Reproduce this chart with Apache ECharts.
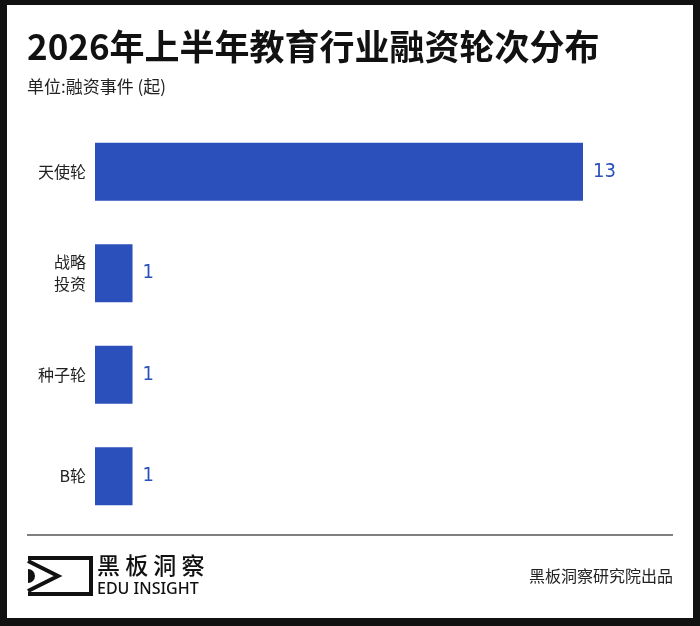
<!DOCTYPE html>
<html>
<head>
<meta charset="utf-8">
<title>2026年上半年教育行业融资轮次分布</title>
<script src="https://cdn.jsdelivr.net/npm/echarts@6/dist/echarts.min.js"></script>
<style>
  html, body { margin: 0; padding: 0; background: #111; }
  #chart { width: 700px; height: 626px; }
</style>
</head>
<body>
<div id="chart"></div>
<script>
// data
var rounds = ['天使轮', '战略\n投资', '种子轮', 'B轮'];
var counts = [13, 1, 1, 1];
var titleText = '2026年上半年教育行业融资轮次分布';
var unitText = '单位:融资事件 (起)';

var BLUE = '#2b4fbb';
var CJK = '"Noto Sans CJK SC", "Noto Sans", sans-serif';
var NARROW = '"DejaVu Sans Condensed", "Liberation Sans Narrow", Roboto, sans-serif';

var myChart = echarts.init(document.getElementById('chart'));

var option = {
  backgroundColor: '#111',
  animation: false,
  title: [{
    text: titleText,
    left: 27,
    top: 29,
    padding: 0,
    textStyle: { fontFamily: CJK, fontSize: 35, fontWeight: 'bold', color: '#111' }
  }, {
    text: unitText,
    left: 27,
    top: 78,
    padding: 0,
    textStyle: { fontFamily: CJK, fontSize: 17, fontWeight: 'normal', color: '#222' }
  }],
  grid: { left: 95, right: 117, top: 121, height: 406, containLabel: false },
  xAxis: { type: 'value', min: 0, max: 13, show: false },
  yAxis: {
    type: 'category',
    data: rounds,
    inverse: true,
    axisLine: { show: false },
    axisTick: { show: false },
    axisLabel: { margin: 9, fontFamily: CJK, fontSize: 16, lineHeight: 22, color: '#222' }
  },
  series: [{
    type: 'bar',
    data: counts,
    barWidth: 58,
    itemStyle: { color: BLUE },
    label: {
      show: true,
      position: 'right',
      distance: 10,
      fontFamily: NARROW,
      fontSize: 20,
      fontWeight: 'normal',
      color: BLUE
    }
  }],
  graphic: [
    // white card inside the black frame
    { type: 'rect', z: -10, shape: { x: 7, y: 5, width: 686, height: 613 }, style: { fill: '#fff' } },
    // divider line
    { type: 'line', shape: { x1: 27, y1: 535, x2: 673, y2: 535 }, style: { stroke: '#555', lineWidth: 1.5 } },
    // logo box
    { type: 'polyline', shape: { points: [[28, 558], [91, 558], [91, 594], [28, 594]] },
      style: { stroke: '#111', lineWidth: 4, fill: null } },
    { type: 'polyline', shape: { points: [[28, 561], [58, 576], [28, 591]] },
      style: { stroke: '#111', lineWidth: 4, fill: null, lineJoin: 'miter' } },
    { type: 'sector', shape: { cx: 28, cy: 576, r: 7, r0: 0, startAngle: -Math.PI / 2, endAngle: Math.PI / 2 },
      style: { fill: '#111' } },
    { type: 'text', left: 97, top: 554,
      style: { text: '黑 板 洞 察', font: '500 23px ' + CJK, fill: '#111' } },
    { type: 'text', left: 97, top: 581,
      style: { text: 'EDU INSIGHT', font: '500 16px "Noto Sans", sans-serif', fill: '#111' } },
    { type: 'text', right: 27, top: 568,
      style: { text: '黑板洞察研究院出品', font: '16px ' + CJK, fill: '#222' } }
  ]
};

myChart.setOption(option);
</script>
</body>
</html>
